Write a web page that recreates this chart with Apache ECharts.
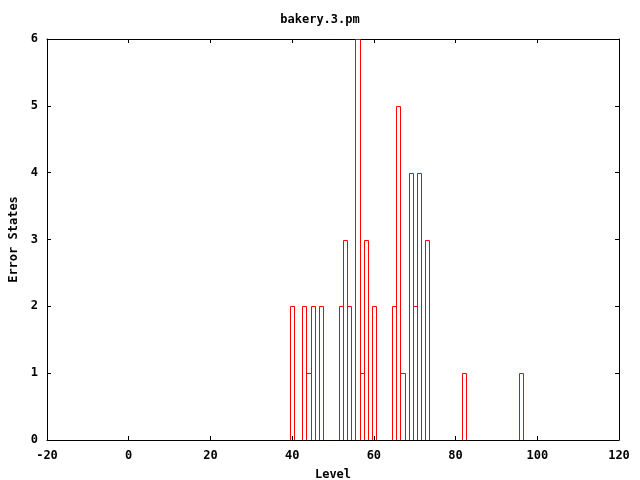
<!DOCTYPE html>
<html>
<head>
<meta charset="utf-8">
<script src="https://cdn.jsdelivr.net/npm/echarts@6/dist/echarts.min.js"></script>
<style>html,body{margin:0;padding:0;background:#fff;}#c{width:640px;height:480px;}</style>
</head>
<body>
<div id="c"></div>
<script>
const levels = [40, 43, 44, 45, 47, 52, 53, 54, 56, 57, 58, 60, 65, 66, 67, 69, 70, 71, 73, 82, 96];
const errorStates = [2, 2, 1, 2, 2, 2, 3, 2, 6, 1, 3, 2, 2, 5, 1, 4, 2, 4, 3, 1, 1];
const xTicks = [-20, 0, 20, 40, 60, 80, 100, 120];
const yTicks = [0, 1, 2, 3, 4, 5, 6];

const FONT = '"DejaVu Sans Mono", monospace';
const txt = {fontFamily: FONT, fontSize: 12, fontWeight: 'bold', color: '#000'};
const data = levels.map((v, i) => [v, errorStates[i]]);
const RED = '#ff0000';

const chart = echarts.init(document.getElementById('c'), null, {renderer: 'canvas'});
const axLine = {show: true, onZero: false, lineStyle: {color: '#000', width: 1}};
const tick = {show: true, inside: true, length: 4, lineStyle: {color: '#000', width: 1}};
chart.setOption({
  animation: false,
  backgroundColor: '#fff',
  color: [RED],
  title: {text: 'bakery.3.pm', left: 'center', top: 9, textStyle: txt},
  grid: {left: 47, right: 21, top: 39, bottom: 40, containLabel: false, outerBoundsMode: 'none'},
  xAxis: [{
    type: 'value', min: xTicks[0], max: xTicks[xTicks.length - 1], interval: 20,
    position: 'bottom', axisLine: axLine, axisTick: tick, splitLine: {show: false},
    axisLabel: Object.assign({margin: 10}, txt),
    name: 'Level', nameLocation: 'middle', nameGap: 29, nameTextStyle: txt
  }, {
    type: 'value', min: xTicks[0], max: xTicks[xTicks.length - 1], interval: 20,
    position: 'top', axisLine: axLine, axisTick: tick, splitLine: {show: false},
    axisLabel: {show: false}
  }],
  yAxis: [{
    type: 'value', min: yTicks[0], max: yTicks[yTicks.length - 1], interval: 1,
    position: 'left', axisLine: axLine, axisTick: tick, splitLine: {show: false},
    axisLabel: Object.assign({margin: 9}, txt),
    name: 'Error States', nameLocation: 'middle', nameGap: 24, nameRotate: 90, nameTextStyle: txt
  }, {
    type: 'value', min: yTicks[0], max: yTicks[yTicks.length - 1], interval: 1,
    position: 'right', axisLine: axLine, axisTick: tick, splitLine: {show: false},
    axisLabel: {show: false}
  }],
  series: [{
    type: 'custom',
    xAxisIndex: 0, yAxisIndex: 0,
    clip: true,
    itemStyle: {color: 'none', borderColor: RED, borderWidth: 1},
    data: data,
    renderItem: function (params, api) {
      const v = api.value(0), h = api.value(1);
      const p0 = api.coord([v - 0.5, h]);
      const p1 = api.coord([v + 0.5, 0]);
      const x = Math.round(p0[0]) + 0.5, x2 = Math.round(p1[0]) + 0.5;
      const y = Math.round(p0[1]) + 0.5, y2 = Math.round(p1[1]) + 0.5;
      return {
        type: 'polyline',
        shape: {points: [[x, y2], [x, y], [x2, y], [x2, y2]]},
        style: {fill: null, stroke: RED, lineWidth: 1}
      };
    }
  }]
});
</script>
</body>
</html>
